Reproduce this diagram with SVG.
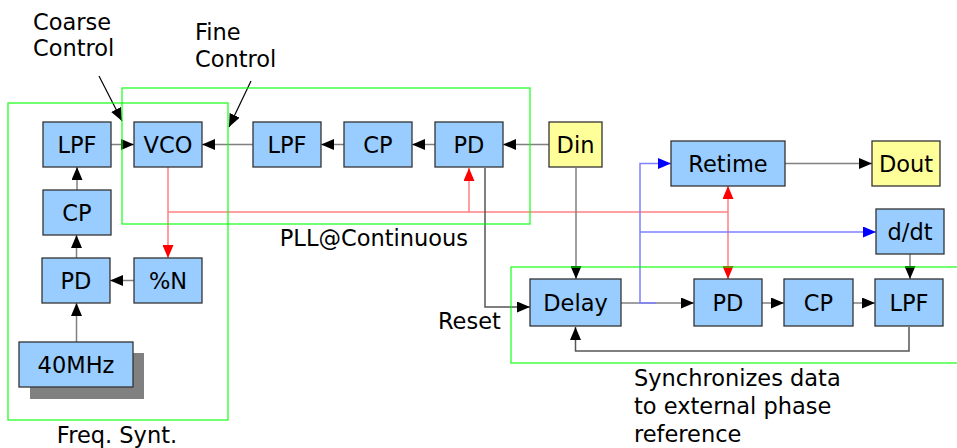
<svg xmlns="http://www.w3.org/2000/svg" width="957" height="448" viewBox="0 0 957 448">
  <style>
    text { font-family: "DejaVu Sans", "Liberation Sans", sans-serif; font-size: 22.5px; fill: #000; }
    .lbl { text-anchor: middle; }
    .blk { fill: #99ccff; stroke: #333; stroke-width: 1.3; }
    .io { fill: #ffff99; stroke: #333; stroke-width: 1.3; }
    .shadow { fill: #808080; }
    .frame { fill: none; stroke: #00ff00; stroke-width: 1.3; opacity: 0.85; }
    .w { fill: none; stroke: #808080; stroke-width: 1.5; }
    .wd { fill: none; stroke: #555; stroke-width: 1.5; }
    .r { fill: none; stroke: #ff7f7f; stroke-width: 1.5; }
    .b { fill: none; stroke: #7f7fff; stroke-width: 1.5; }
    .ak { marker-end: url(#ah); }
    .ar { marker-end: url(#ahr); }
    .ab { marker-end: url(#ahb); }
  </style>
  <defs>
    <marker id="ah" markerUnits="userSpaceOnUse" markerWidth="13" markerHeight="11" refX="13" refY="5.5" orient="auto-start-reverse">
      <path d="M0,0 L13,5.5 L0,11 z" fill="#000"/>
    </marker>
    <marker id="ahr" markerUnits="userSpaceOnUse" markerWidth="13" markerHeight="11" refX="13" refY="5.5" orient="auto-start-reverse">
      <path d="M0,0 L13,5.5 L0,11 z" fill="#ff0000"/>
    </marker>
    <marker id="ahb" markerUnits="userSpaceOnUse" markerWidth="13" markerHeight="11" refX="13" refY="5.5" orient="auto-start-reverse">
      <path d="M0,0 L13,5.5 L0,11 z" fill="#0000ff"/>
    </marker>
  </defs>

  <!-- connectors -->
  <g id="connectors">
    <!-- PLL chain -->
    <path class="w ak" d="M549,144.5 H503"/>
    <path class="w ak" d="M435,144.5 H412"/>
    <path class="w ak" d="M344,144.5 H321"/>
    <path class="w ak" d="M253,144.5 H202"/>
    <!-- frequency synthesizer loop -->
    <path class="w ak" d="M111,144.5 H134"/>
    <path class="w ak" d="M77,190 V167"/>
    <path class="w ak" d="M76.5,258 V235"/>
    <path class="w ak" d="M76.5,342 V303"/>
    <path class="w ak" d="M134,280.5 H110"/>
    <!-- VCO output distribution -->
    <path class="r ar" d="M168,167 V258"/>
    <path class="r" d="M168,212 H728"/>
    <path class="r ar" d="M469,212 V168"/>
    <path class="r" d="M728,186 V279" marker-start="url(#ahr)" marker-end="url(#ahr)"/>
    <!-- reset and data -->
    <path class="wd ak" d="M485,168 V307 H530"/>
    <path class="w ak" d="M576,168 V279"/>
    <path class="w ak" d="M621,303 H694"/>
    <path class="b ab" d="M656,303 H640 V163.5 H671"/>
    <path class="b ab" d="M640,232 H876"/>
    <path class="w ak" d="M785,163.5 H872"/>
    <!-- phase alignment loop -->
    <path class="w ak" d="M910,254 V279"/>
    <path class="w ak" d="M762,303 H784"/>
    <path class="w ak" d="M853,303 H875"/>
    <path class="wd ak" d="M909,327 V351 H575.5 V327"/>
    <!-- annotation pointers -->
    <path class="wd ak" d="M99,76 L122,121" style="stroke:#000;stroke-width:1.2"/>
    <path class="wd ak" d="M251,81 L229,127" style="stroke:#000;stroke-width:1.2"/>
  </g>

  <!-- frequency synthesizer -->
  <g id="fs-lpf"><rect class="blk" x="43" y="122" width="68" height="45"/><text class="lbl" x="77" y="152.5">LPF</text></g>
  <g id="fs-cp"><rect class="blk" x="43" y="190" width="68" height="45"/><text class="lbl" x="77" y="220.5">CP</text></g>
  <g id="fs-pd"><rect class="blk" x="42" y="258" width="68" height="45"/><text class="lbl" x="76" y="288.5">PD</text></g>
  <g id="fs-div"><rect class="blk" x="134" y="258" width="68" height="45"/><text class="lbl" x="168" y="288.5">%N</text></g>
  <g id="ref-osc">
    <rect class="shadow" x="30" y="353" width="114" height="46"/>
    <rect class="blk" x="19" y="342" width="114" height="45"/>
    <text class="lbl" x="76" y="372.5">40MHz</text>
  </g>

  <!-- continuous PLL -->
  <g id="vco"><rect class="blk" x="134" y="122" width="68" height="45"/><text class="lbl" x="168" y="152.5">VCO</text></g>
  <g id="pll-lpf"><rect class="blk" x="253" y="122" width="68" height="45"/><text class="lbl" x="287" y="152.5">LPF</text></g>
  <g id="pll-cp"><rect class="blk" x="344" y="122" width="68" height="45"/><text class="lbl" x="378" y="152.5">CP</text></g>
  <g id="pll-pd"><rect class="blk" x="435" y="122" width="68" height="45"/><text class="lbl" x="469" y="152.5">PD</text></g>
  <g id="din"><rect class="io" x="549" y="122" width="53" height="45"/><text class="lbl" x="575.5" y="152.5">Din</text></g>

  <!-- output -->
  <g id="retime"><rect class="blk" x="671" y="141" width="114" height="45"/><text class="lbl" x="728" y="171.5">Retime</text></g>
  <g id="dout"><rect class="io" x="872" y="141" width="68" height="45"/><text class="lbl" x="906" y="171.5">Dout</text></g>
  <g id="ddt"><rect class="blk" x="876" y="209" width="68" height="45"/><text class="lbl" x="910" y="239.5">d/dt</text></g>

  <!-- phase alignment -->
  <g id="delay"><rect class="blk" x="530" y="279" width="91" height="47"/><text class="lbl" x="575.5" y="310.5">Delay</text></g>
  <g id="pa-pd"><rect class="blk" x="694" y="279" width="68" height="47"/><text class="lbl" x="728" y="310.5">PD</text></g>
  <g id="pa-cp"><rect class="blk" x="784" y="279" width="69" height="47"/><text class="lbl" x="818.5" y="310.5">CP</text></g>
  <g id="pa-lpf"><rect class="blk" x="875" y="279" width="68" height="47"/><text class="lbl" x="909" y="310.5">LPF</text></g>

  <!-- grouping frames -->
  <g id="frames">
    <rect class="frame" x="8" y="103" width="220" height="317"/>
    <rect class="frame" x="122" y="88" width="408" height="136"/>
    <rect class="frame" x="511" y="267" width="450" height="96"/>
  </g>

  <!-- annotations -->
  <g id="labels">
    <text x="33" y="30">Coarse</text>
    <text x="33" y="56">Control</text>
    <text x="195" y="40">Fine</text>
    <text x="195" y="67">Control</text>
    <text x="468" y="246" text-anchor="end">PLL@Continuous</text>
    <text x="117" y="443" text-anchor="middle">Freq. Synt.</text>
    <text x="438" y="329">Reset</text>
    <text x="634" y="386">Synchronizes data</text>
    <text x="634" y="414">to external phase</text>
    <text x="634" y="442">reference</text>
  </g>
</svg>
